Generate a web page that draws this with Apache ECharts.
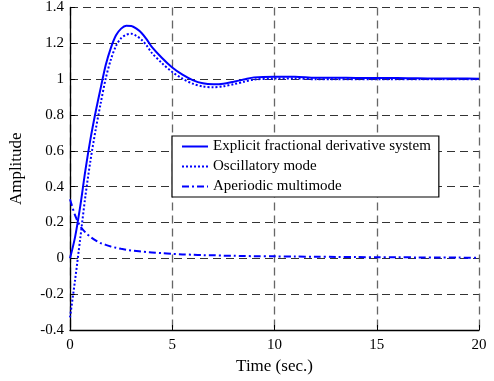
<!DOCTYPE html>
<html><head><meta charset="utf-8">
<script src="https://cdn.jsdelivr.net/npm/echarts@6/dist/echarts.min.js"></script>
<style>html,body{margin:0;padding:0;background:#fff}#c{width:494px;height:381px}</style>
</head><body><div id="c"></div>
<script>
const timeSec = [0,0.25,0.5,0.75,1,1.25,1.5,1.75,2,2.25,2.5,2.75,3,3.25,3.5,3.75,4,4.5,5,5.5,6,6.5,7,7.5,8,8.5,9,10,11,12,13,14,15,16,17,18,19,20];
const explicitSystem = [0,0.12,0.29,0.49,0.665,0.815,0.95,1.08,1.175,1.245,1.282,1.298,1.297,1.282,1.258,1.222,1.18,1.118,1.065,1.025,0.995,0.977,0.972,0.975,0.986,0.998,1.01,1.014,1.014,1.008,1.008,1.007,1.006,1.006,1.005,1.004,1.004,1.003];
const oscillatoryMode = [-0.33,-0.12,0.11,0.345,0.545,0.715,0.865,1.005,1.11,1.186,1.229,1.248,1.253,1.241,1.22,1.187,1.147,1.089,1.04,1.003,0.975,0.959,0.955,0.96,0.972,0.985,0.998,1.003,1.004,0.999,1.0,1.0,1.0,1.0,1.0,1.0,1.0,1.0];
const aperiodicMode = [0.33,0.24,0.18,0.145,0.12,0.10,0.085,0.075,0.066,0.059,0.053,0.048,0.044,0.041,0.038,0.035,0.033,0.029,0.025,0.022,0.020,0.018,0.017,0.015,0.014,0.013,0.012,0.011,0.010,0.009,0.008,0.007,0.006,0.006,0.005,0.004,0.004,0.003];
const seriesNames = ['Explicit fractional derivative system','Oscillatory mode','Aperiodic multimode'];
const xTicks = [0,5,10,15,20];
const yTicks = [-0.4,-0.2,0,0.2,0.4,0.6,0.8,1,1.2,1.4];

const pairs = arr => timeSec.map((t,i)=>[t,arr[i]]);
const font = 'Liberation Serif, Times New Roman, serif';
const chart = echarts.init(document.getElementById('c'));
chart.setOption({
  animation:false,
  textStyle:{fontFamily:font},
  grid:{left:70, right:15, top:7.5, bottom:51, containLabel:false},
  xAxis:{type:'value', min:0, max:20, interval:5,
    name:'Time (sec.)', nameLocation:'middle', nameGap:27,
    nameTextStyle:{fontFamily:font, fontSize:17, color:'#000'},
    axisLine:{show:true, onZero:false, lineStyle:{color:'#000', width:1.3}},
    axisTick:{show:true, inside:true, length:5, lineStyle:{color:'#000'}},
    axisLabel:{fontFamily:font, fontSize:15, color:'#000', margin:8, formatter:v=>String(v)},
    splitLine:{show:true, lineStyle:{color:'#666', type:[8,5], width:1.3}}},
  yAxis:{type:'value', min:-0.4, max:1.4, interval:0.2,
    name:'Amplitude', nameLocation:'middle', nameGap:45,
    nameTextStyle:{fontFamily:font, fontSize:17, color:'#000'},
    axisLine:{show:true, onZero:false, lineStyle:{color:'#000', width:1.3}},
    axisTick:{show:true, inside:true, length:5, lineStyle:{color:'#000'}},
    axisLabel:{fontFamily:font, fontSize:15, color:'#000', margin:6,
      formatter:v=>{const r=Math.round(v*10)/10; return String(r);}},
    splitLine:{show:true, lineStyle:{color:'#333', type:[8,5], width:1}}},
  legend:{orient:'vertical', left:172, top:136, width:289,
    backgroundColor:'#fff', borderColor:'#000', borderWidth:1.2, borderRadius:0,
    padding:[3,8,3,9], itemWidth:26, itemHeight:10, itemGap:5,
    itemStyle:{opacity:0},
    textStyle:{fontFamily:font, fontSize:15, color:'#000'},
    data:seriesNames},
  series:[
    {name:seriesNames[0], type:'line', data:pairs(explicitSystem), smooth:0.3, symbol:'none',
      lineStyle:{color:'#0000ff', width:2, type:'solid'}, itemStyle:{color:'#0000ff'}},
    {name:seriesNames[1], type:'line', data:pairs(oscillatoryMode), smooth:0.3, symbol:'none',
      lineStyle:{color:'#0000ff', width:2, type:[2,2]}, itemStyle:{color:'#0000ff'}},
    {name:seriesNames[2], type:'line', data:pairs(aperiodicMode), smooth:0.3, symbol:'none',
      lineStyle:{color:'#0000ff', width:2, type:[7,3,2,3]}, itemStyle:{color:'#0000ff'}}
  ]
});
</script></body></html>
